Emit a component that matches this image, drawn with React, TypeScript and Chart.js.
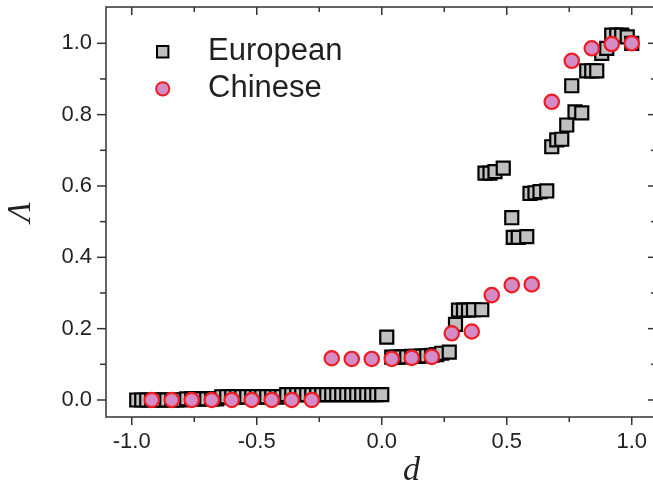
import React, { useEffect, useRef } from "react";
import { Chart, registerables } from "chart.js";

Chart.register(...registerables);

// ---- data ----
const seriesNames = ["European", "Chinese"];
const xTitle = "d";
const yTitle = "Λ";

const europeanD = [
  -0.98, -0.96, -0.94, -0.92, -0.9, -0.88, -0.86, -0.84, -0.82, -0.8,
  -0.78, -0.76, -0.74, -0.72, -0.7, -0.68, -0.66,
  -0.64, -0.62, -0.6, -0.58, -0.56, -0.54, -0.52, -0.5, -0.48, -0.46, -0.44, -0.42, -0.4,
  -0.38, -0.36, -0.34, -0.32, -0.3, -0.28, -0.26, -0.24, -0.22, -0.2,
  -0.18, -0.16, -0.14, -0.12, -0.1, -0.08, -0.06, -0.04, -0.02, 0.0,
  0.02, 0.04, 0.06, 0.08, 0.1, 0.12, 0.14, 0.16, 0.18, 0.2, 0.22, 0.24, 0.27,
  0.295, 0.307, 0.327, 0.347, 0.367, 0.4,
  0.413, 0.433, 0.453, 0.486,
  0.52, 0.526, 0.546, 0.58,
  0.593, 0.613, 0.633, 0.66,
  0.68, 0.7, 0.72, 0.74, 0.76, 0.773, 0.8,
  0.82, 0.84, 0.86, 0.88, 0.9,
  0.92, 0.94, 0.96, 0.982, 1.0,
];
const europeanL = [
  0.0, 0.0, 0.0, 0.0, 0.0, 0.0, 0.0, 0.0, 0.0, 0.0,
  0.003, 0.003, 0.003, 0.003, 0.003, 0.003, 0.003,
  0.009, 0.009, 0.009, 0.009, 0.009, 0.009, 0.009, 0.009, 0.009, 0.009, 0.009, 0.009, 0.009,
  0.015, 0.015, 0.015, 0.015, 0.015, 0.015, 0.015, 0.015, 0.015, 0.015,
  0.015, 0.015, 0.015, 0.015, 0.015, 0.015, 0.015, 0.015, 0.015, 0.015,
  0.176, 0.12, 0.12, 0.121, 0.121, 0.122, 0.122, 0.123, 0.124, 0.125, 0.127, 0.131, 0.134,
  0.212, 0.252, 0.252, 0.252, 0.253, 0.253,
  0.636, 0.636, 0.64, 0.65,
  0.511, 0.456, 0.456, 0.458,
  0.579, 0.581, 0.584, 0.586,
  0.71, 0.729, 0.731, 0.771, 0.881, 0.808, 0.805,
  0.923, 0.923, 0.923, 0.972, 0.986,
  1.023, 1.023, 1.023, 1.018, 1.0,
];

const chineseD = [
  -0.92, -0.84, -0.76, -0.68, -0.6, -0.52, -0.44, -0.36, -0.28,
  -0.2, -0.12, -0.04, 0.04, 0.12, 0.2,
  0.28, 0.36, 0.44, 0.52, 0.6,
  0.68, 0.76, 0.84, 0.92, 1.0,
];
const chineseL = [
  0.0, 0.0, 0.0, 0.0, 0.0, 0.0, 0.0, 0.0, 0.0,
  0.117, 0.115, 0.115, 0.115, 0.118, 0.121,
  0.187, 0.192, 0.294, 0.322, 0.324,
  0.836, 0.951, 0.986, 0.998, 1.0,
];

const xTicks = [-1.0, -0.5, 0.0, 0.5, 1.0];
const xMinorTicks = [-0.75, -0.25, 0.25, 0.75];
const yTicks = [0.0, 0.2, 0.4, 0.6, 0.8, 1.0];
const yMinorTicks = [0.1, 0.3, 0.5, 0.7, 0.9];

// ---- style ----
const TEXT = "#231f20";
const AXIS = "#333333";
const SQ_FILL = "#c0c0c0";
const SQ_EDGE = "#000000";
const CI_FILL = "#d58bc5";
const CI_EDGE = "#ee1c25";

const zeroPad = (s: any) => {
  s.paddingTop = 0;
  s.paddingBottom = 0;
  s.paddingLeft = 0;
  s.paddingRight = 0;
};

const framePlugin = {
  id: "frameAndLegend",
  afterDraw(chart: any) {
    const { ctx, chartArea: a, scales } = chart;
    const xs = scales.x;
    const ys = scales.y;
    ctx.save();
    ctx.strokeStyle = AXIS;
    ctx.lineWidth = 1.5;
    ctx.strokeRect(a.left, a.top, a.right - a.left, a.bottom - a.top);
    const line = (x1: number, y1: number, x2: number, y2: number) => {
      ctx.beginPath();
      ctx.moveTo(x1, y1);
      ctx.lineTo(x2, y2);
      ctx.stroke();
    };
    for (const v of xTicks) {
      const p = xs.getPixelForValue(v);
      line(p, a.bottom, p, a.bottom + 8);
      line(p, a.top, p, a.top + 8);
    }
    for (const v of xMinorTicks) {
      const p = xs.getPixelForValue(v);
      line(p, a.bottom, p, a.bottom + 5);
      line(p, a.top, p, a.top + 5);
    }
    for (const v of yTicks) {
      const p = ys.getPixelForValue(v);
      line(a.left - 9, p, a.left, p);
      line(a.right - 7, p, a.right, p);
    }
    for (const v of yMinorTicks) {
      const p = ys.getPixelForValue(v);
      line(a.left - 6, p, a.left, p);
      line(a.right - 4, p, a.right, p);
    }

    // axis titles
    ctx.fillStyle = TEXT;
    ctx.font = 'italic 34px "Liberation Serif"';
    ctx.textAlign = "center";
    ctx.textBaseline = "alphabetic";
    ctx.fillText(xTitle, (a.left + a.right) / 2 + 31, 480);

    ctx.save();
    ctx.translate(21, (a.top + a.bottom) / 2);
    ctx.rotate(-Math.PI / 2);
    ctx.font = 'italic 33px "Liberation Serif"';
    ctx.textAlign = "center";
    ctx.textBaseline = "middle";
    ctx.fillText(yTitle, 0, 0);
    ctx.restore();

    // legend
    const lx = 162.7;
    const ly1 = 51.7;
    const ly2 = 88.8;
    ctx.fillStyle = SQ_FILL;
    ctx.strokeStyle = SQ_EDGE;
    ctx.lineWidth = 2;
    ctx.beginPath();
    ctx.rect(lx - 5.7, ly1 - 5.7, 11.4, 11.4);
    ctx.fill();
    ctx.stroke();

    ctx.fillStyle = CI_FILL;
    ctx.strokeStyle = CI_EDGE;
    ctx.beginPath();
    ctx.arc(lx, ly2, 6.6, 0, Math.PI * 2);
    ctx.fill();
    ctx.stroke();

    ctx.fillStyle = TEXT;
    ctx.font = '31px "Liberation Sans"';
    ctx.textAlign = "left";
    ctx.textBaseline = "alphabetic";
    ctx.fillText(seriesNames[0], 208, 60);
    ctx.fillText(seriesNames[1], 208, 96.7);
    ctx.restore();
  },
};

export default function App() {
  const ref = useRef<HTMLCanvasElement | null>(null);

  useEffect(() => {
    if (!ref.current) return;
    const chart = new Chart(ref.current, {
      type: "scatter",
      data: {
        datasets: [
          {
            label: seriesNames[0],
            data: europeanD.map((d, i) => ({ x: d, y: europeanL[i] })),
            pointStyle: "rect",
            pointRadius: 9.2,
            pointHoverRadius: 9.2,
            backgroundColor: SQ_FILL,
            borderColor: SQ_EDGE,
            borderWidth: 2.2,
            order: 2,
            clip: false as any,
          },
          {
            label: seriesNames[1],
            data: chineseD.map((d, i) => ({ x: d, y: chineseL[i] })),
            pointStyle: "circle",
            pointRadius: 7.2,
            pointHoverRadius: 7.2,
            backgroundColor: CI_FILL,
            borderColor: CI_EDGE,
            borderWidth: 2.2,
            order: 1,
            clip: false as any,
          },
        ],
      },
      options: {
        animation: false,
        responsive: false,
        maintainAspectRatio: false,
        devicePixelRatio: 1,
        layout: { autoPadding: false, padding: { left: 0, top: 7, right: 5, bottom: 0 } },
        plugins: {
          legend: { display: false },
          tooltip: { enabled: false },
        },
        scales: {
          x: {
            type: "linear",
            position: "bottom",
            min: -1.103,
            max: 1.093,
            grid: { display: false, drawTicks: false },
            border: { display: false },
            afterBuildTicks: (s: any) => {
              s.ticks = xTicks.map((v) => ({ value: v }));
            },
            afterFit: (s: any) => {
              s.height = 74;
              zeroPad(s);
            },
            ticks: {
              autoSkip: false,
              maxRotation: 0,
              padding: 12,
              color: TEXT,
              font: { family: '"Liberation Sans"', size: 22 },
              callback: (v: any) => Number(v).toFixed(1),
            },
          },
          y: {
            type: "linear",
            position: "left",
            min: -0.0477,
            max: 1.1018,
            grid: { display: false, drawTicks: false },
            border: { display: false },
            afterBuildTicks: (s: any) => {
              s.ticks = yTicks.map((v) => ({ value: v }));
            },
            afterFit: (s: any) => {
              s.width = 106;
              zeroPad(s);
            },
            ticks: {
              autoSkip: false,
              padding: 14,
              color: TEXT,
              font: { family: '"Liberation Sans"', size: 22 },
              callback: (v: any) => Number(v).toFixed(1),
            },
          },
        },
      },
      plugins: [framePlugin],
    });
    return () => chart.destroy();
  }, []);

  return (
    <div
      style={{
        position: "fixed",
        left: 0,
        top: 0,
        width: 653,
        height: 491,
        overflow: "hidden",
        background: "#ffffff",
      }}
    >
      <canvas ref={ref} width={660} height={491} style={{ display: "block" }} />
    </div>
  );
}
